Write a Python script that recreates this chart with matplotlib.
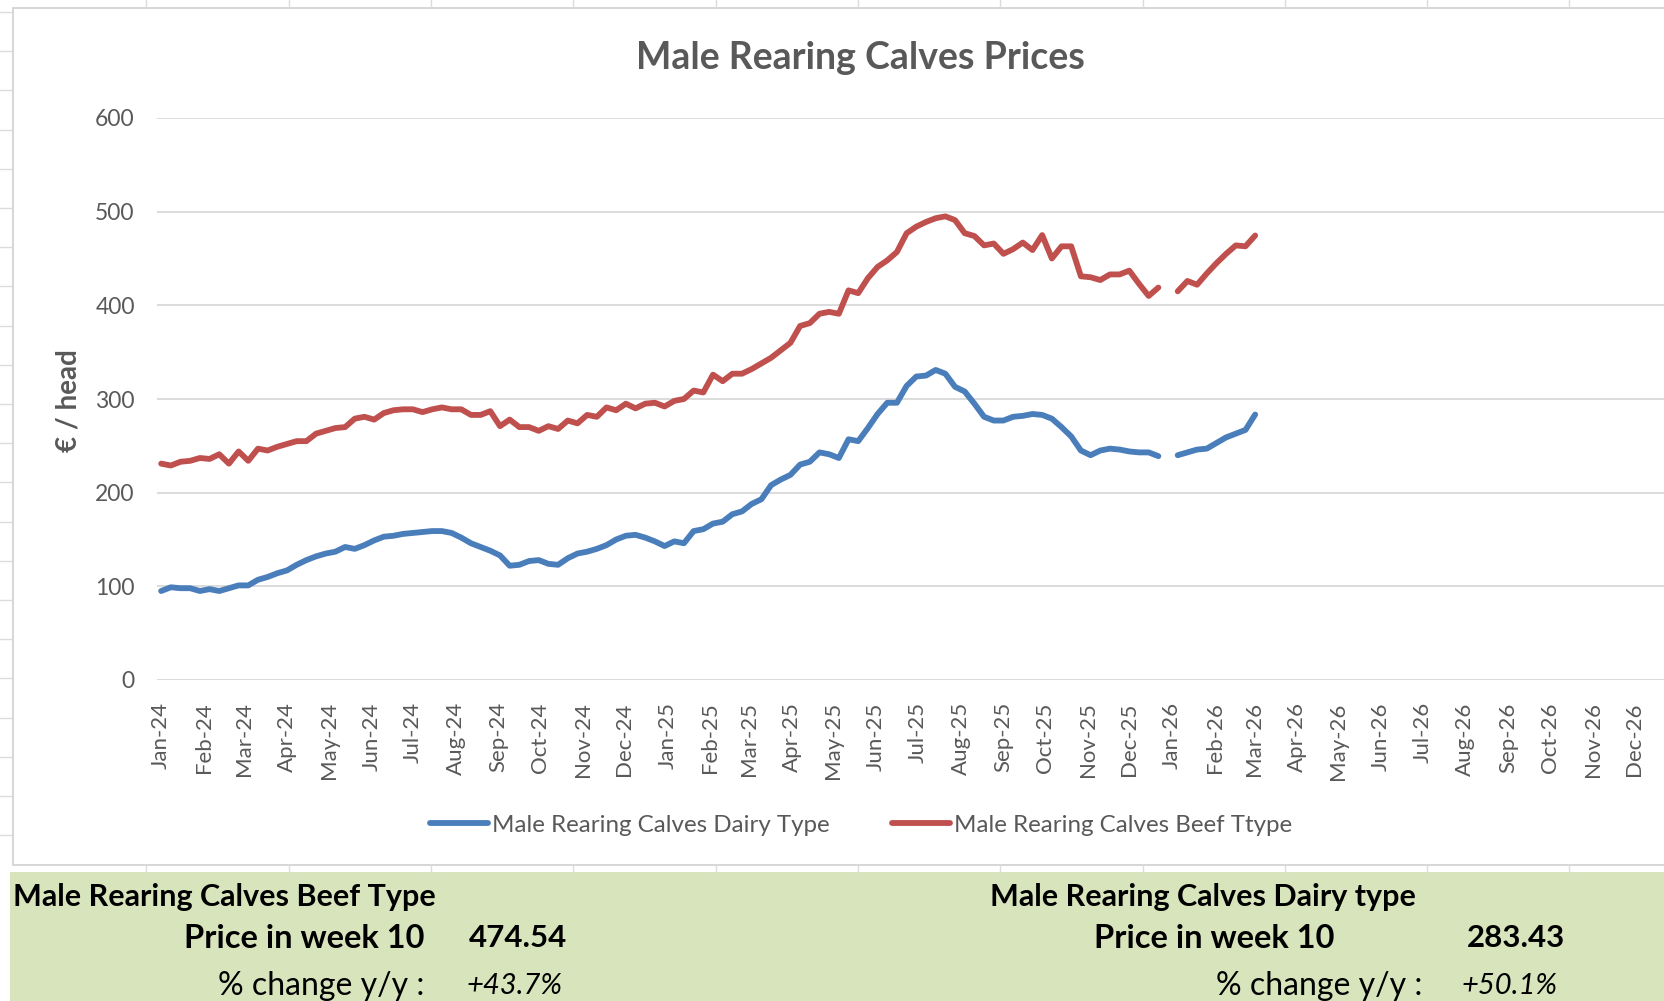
import numpy as np
import pandas as pd
import matplotlib
matplotlib.use("Agg")
import matplotlib.pyplot as plt
from matplotlib.patches import Rectangle
from matplotlib.lines import Line2D

plt.rcParams['font.family'] = ['Lato', 'DejaVu Sans']

nan = np.nan
# weekly prices, first week of 2024 to week 10 of 2026 (week 1 of 2026 missing)
weeks = pd.date_range('2024-01-01', periods=114, freq='7D')

beef = [231, 229, 233, 234, 237, 236, 241, 231, 244, 234,
        247, 245, 249, 252, 255, 255, 263, 266, 269, 270,
        279, 281, 278, 285, 288, 289, 289, 286, 289, 291,
        289, 289, 283, 283, 287, 271, 278, 270, 270, 266,
        271, 268, 277, 274, 283, 281, 291, 288, 295, 290,
        295, 296, 292, 298, 300, 309, 307, 326, 319, 327,
        327, 332, 338, 344, 352, 360, 378, 381, 391, 393,
        391, 416, 413, 429, 441, 448, 457, 477, 484, 489,
        493, 495, 491, 477, 474, 464, 466, 455, 460, 467,
        459, 475, 450, 463, 463, 431, 430, 427, 433, 433,
        437, 423, 410, 419, nan, 415, 426, 422, 434, 445,
        455, 464, 463, 474.54]

dairy = [95, 99, 98, 98, 95, 97, 95, 98, 101, 101,
         107, 110, 114, 117, 123, 128, 132, 135, 137, 142,
         140, 144, 149, 153, 154, 156, 157, 158, 159, 159,
         157, 152, 146, 142, 138, 133, 122, 123, 127, 128,
         124, 123, 130, 135, 137, 140, 144, 150, 154, 155,
         152, 148, 143, 148, 146, 159, 161, 167, 169, 177,
         180, 188, 193, 208, 214, 219, 230, 233, 243, 241,
         237, 257, 255, 269, 284, 296, 296, 314, 324, 325,
         331, 327, 313, 308, 295, 281, 277, 277, 281, 282,
         284, 283, 279, 270, 260, 245, 240, 245, 247, 246,
         244, 243, 243, 239, nan, 240, 243, 246, 247, 253,
         259, 263, 267, 283.43]

months = pd.date_range('2024-01-01', '2026-12-01', freq='MS')
month_labels = [m.strftime('%b-%y') for m in months]

W, H = 1664, 1001
def fx(px):
    return px / W
def fy(py):
    return 1 - py / H

GREY = '#595959'
fig = plt.figure(figsize=(W / 100, H / 100), dpi=100)

# spreadsheet background bits
fig.patches.append(Rectangle((fx(13), fy(865)), 1.2, (865 - 8) / H, transform=fig.transFigure,
                             facecolor='white', edgecolor='#d0d0d0', lw=1.2, zorder=-2))
fig.patches.append(Rectangle((fx(10), 0), 1.0, 129 / H, transform=fig.transFigure,
                             facecolor='#d8e4bc', edgecolor='none', zorder=-2))
for k in range(11):
    cx = fx(146.4 + k * 142.3)
    fig.add_artist(Line2D([cx, cx], [fy(8), 1], color='#dcdcdc', lw=1, zorder=-1))
    fig.add_artist(Line2D([cx, cx], [fy(872), fy(865)], color='#dcdcdc', lw=1, zorder=-1))
for k in range(22):
    ry = fy(12 + k * 39.2)
    if ry > fy(865):
        fig.add_artist(Line2D([0, fx(11)], [ry, ry], color='#dcdcdc', lw=1, zorder=-1))

ax = fig.add_axes([fx(157), fy(680), 1520 / W, 562 / H])
ax.set_facecolor('none')
ax.plot(weeks, dairy, color='#4a7ebb', lw=4.2, solid_capstyle='round',
        label='Male Rearing Calves Dairy Type')
ax.plot(weeks, beef, color='#c0504d', lw=4.2, solid_capstyle='round',
        label='Male Rearing Calves Beef Ttype')

ax.set_ylim(0, 600)
ax.set_yticks(range(0, 601, 100))
ax.set_xlim(pd.Timestamp('2023-12-29'), pd.Timestamp('2027-01-01'))
ax.set_xticks(months)
ax.set_xticklabels(month_labels, rotation=90)
ax.grid(axis='y', color='#d9d9d9', lw=1.3)
ax.set_axisbelow(True)
for s in ax.spines.values():
    s.set_visible(False)
ax.tick_params(axis='y', length=0, labelsize=16.5, labelcolor=GREY, pad=16)
ax.tick_params(axis='x', length=0, labelsize=16, labelcolor=GREY, pad=16)

fig.text(fx(860), fy(58), 'Male Rearing Calves Prices', ha='center', va='center',
         fontsize=27, weight='bold', color=GREY)
fig.text(fx(68), fy(401), '€ / head', rotation=90, ha='center', va='center',
         fontsize=20, weight='bold', color=GREY)

ax.legend(loc='center', bbox_to_anchor=(fx(861), fy(825)), bbox_transform=fig.transFigure,
          ncol=2, frameon=False, handlelength=2.4, handletextpad=0.15, columnspacing=2.6,
          fontsize=17.4, labelcolor=GREY)

# summary cells under the chart
fig.text(fx(13), fy(897), 'Male Rearing Calves Beef Type', ha='left', va='center',
         fontsize=22, weight='bold', color='black')
fig.text(fx(424), fy(938), 'Price in week 10', ha='right', va='center',
         fontsize=23.5, weight='bold', color='black')
fig.text(fx(469), fy(938), '474.54', ha='left', va='center',
         fontsize=22.5, weight='bold', color='black')
fig.text(fx(424), fy(986), '% change y/y :', ha='right', va='center',
         fontsize=23, color='black')
fig.text(fx(467), fy(986), '+43.7%', ha='left', va='center',
         fontsize=21, style='italic', color='black')

fig.text(fx(990), fy(897), 'Male Rearing Calves Dairy type', ha='left', va='center',
         fontsize=22, weight='bold', color='black')
fig.text(fx(1334), fy(938), 'Price in week 10', ha='right', va='center',
         fontsize=23.5, weight='bold', color='black')
fig.text(fx(1467), fy(938), '283.43', ha='left', va='center',
         fontsize=22.5, weight='bold', color='black')
fig.text(fx(1422), fy(986), '% change y/y :', ha='right', va='center',
         fontsize=23, color='black')
fig.text(fx(1462), fy(986), '+50.1%', ha='left', va='center',
         fontsize=21, style='italic', color='black')

fig.savefig('out.png', dpi=100)
